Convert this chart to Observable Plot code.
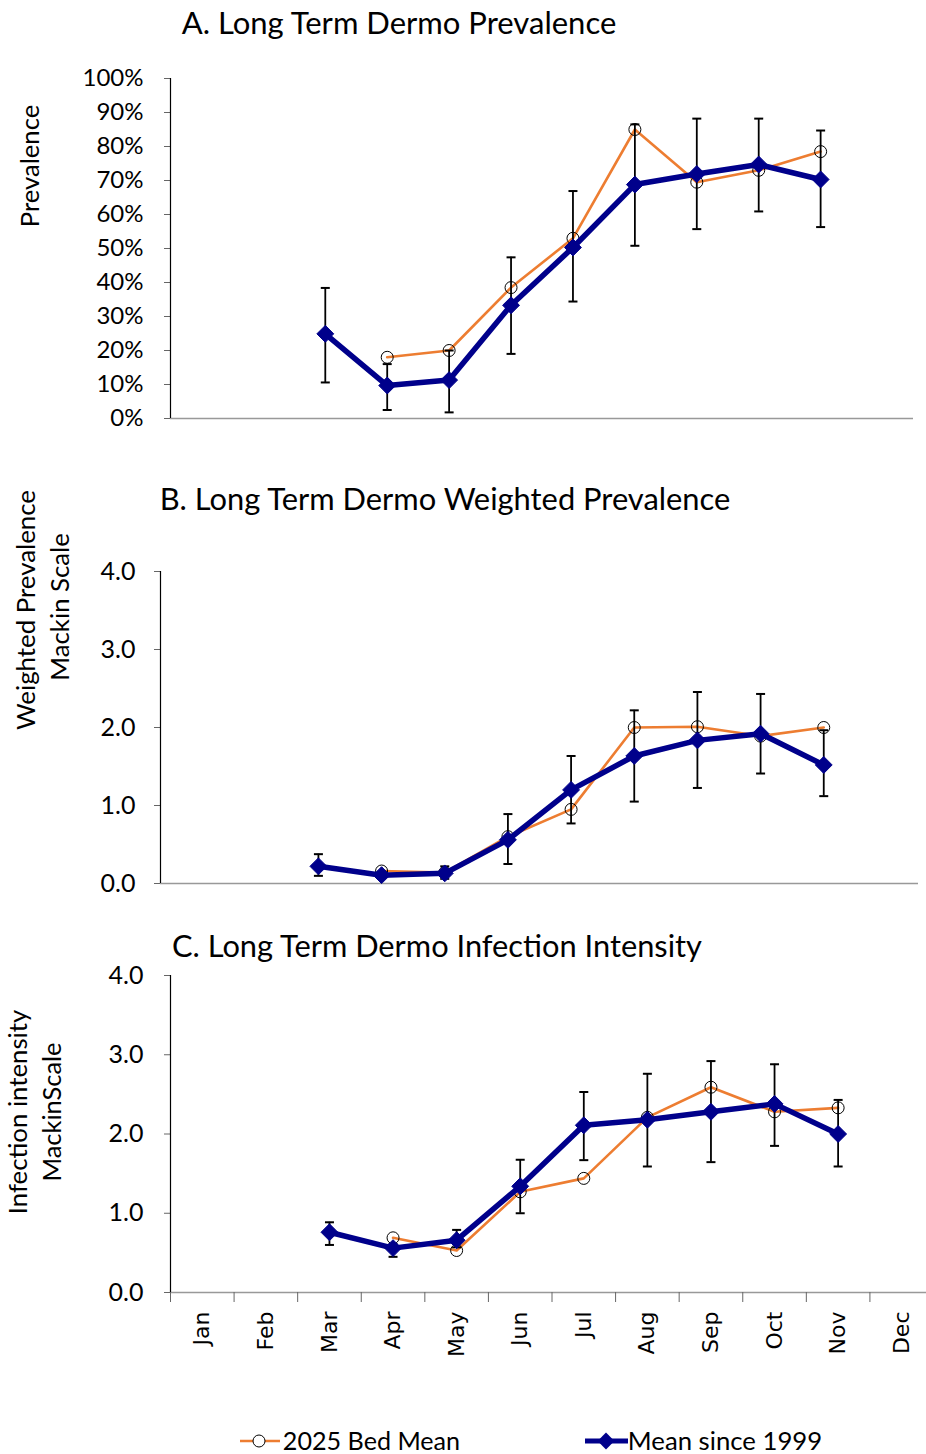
<!DOCTYPE html>
<html><head><meta charset="utf-8">
<script src="https://cdn.jsdelivr.net/npm/d3@7"></script>
<script src="https://cdn.jsdelivr.net/npm/@observablehq/plot@0.6"></script>
<style>
body{margin:0;background:#fff;}
#root{position:relative;width:926px;height:1454px;overflow:hidden;font-family:Lato,sans-serif;color:#000;background:#fff;}
.lbl{position:absolute;white-space:nowrap;line-height:1;}
.panel{position:absolute;left:0;}
</style></head><body><div id="root"></div>
<script>
// ---------- data ----------
const months = ["Jan","Feb","Mar","Apr","May","Jun","Jul","Aug","Sep","Oct","Nov","Dec"];
const seriesNames = ["2025 Bed Mean", "Mean since 1999"];

// A. Prevalence (fraction)
const prevMean = [null,null,0.249,0.097,0.113,0.333,0.503,0.688,0.719,0.747,0.703,null];
const prevBed  = [null,null,null,0.180,0.200,0.385,0.530,0.850,0.695,0.730,0.785,null];
const prevLo   = [null,null,0.106,0.025,0.018,0.190,0.344,0.508,0.557,0.609,0.563,null];
const prevHi   = [null,null,0.384,0.160,0.200,0.474,0.669,0.865,0.882,0.882,0.847,null];
const prevTicks = [0,0.1,0.2,0.3,0.4,0.5,0.6,0.7,0.8,0.9,1.0];

// B. Weighted prevalence (Mackin scale)
const wpMean = [null,null,0.22,0.107,0.13,0.56,1.20,1.635,1.835,1.92,1.52,null];
const wpBed  = [null,null,null,0.16,0.14,0.60,0.95,2.00,2.01,1.89,2.00,null];
const wpLo   = [null,null,0.098,0.07,0.06,0.25,0.77,1.05,1.225,1.41,1.12,null];
const wpHi   = [null,null,0.376,0.15,0.22,0.89,1.635,2.22,2.455,2.43,1.965,null];

// C. Infection intensity (Mackin scale)
const iiMean = [null,null,0.76,0.56,0.66,1.34,2.11,2.18,2.28,2.38,2.00,null];
const iiBed  = [null,null,null,0.69,0.53,1.27,1.44,2.21,2.59,2.28,2.33,null];
const iiLo   = [null,null,0.60,0.45,0.57,1.00,1.67,1.59,1.645,1.85,1.59,null];
const iiHi   = [null,null,0.886,0.61,0.79,1.675,2.53,2.76,2.92,2.88,2.43,null];
const mackinTicks = [0,1,2,3,4];

// ---------- styles ----------
const ORANGE = "#ED7D31", NAVY = "#00008B";
const capSymbol = {draw(ctx){ ctx.moveTo(-4.5,0); ctx.lineTo(4.5,0); }};
const root = document.getElementById("root");

function panel(o){
  const rows = months.map((m,i)=>({m, x:i+0.5, mean:o.mean[i], bed:o.bed[i], lo:o.lo[i], hi:o.hi[i]}));
  const mRows = rows.filter(d=>d.mean!=null);
  const bRows = rows.filter(d=>d.bed!=null);
  const eRows = rows.filter(d=>d.lo!=null);
  const marks = [
    Plot.ruleY([o.yDomain[0]], {stroke:"#999", strokeWidth:1.5}),
    Plot.axisY({ticks:o.yTicks, tickFormat:o.yFmt, tickSize:6, tickPadding:o.tickPad, stroke:"#666", fontSize:o.tickFont, label:null}),
    Plot.ruleX([0], {stroke:"#000", strokeWidth:1.2}),
    Plot.line(bRows, {x:"x", y:"bed", stroke:ORANGE, strokeWidth:2.6}),
    Plot.dot(bRows, {x:"x", y:"bed", r:6, stroke:"#000", strokeWidth:1, fill:"none"}),
    Plot.ruleX(eRows, {x:"x", y1:"lo", y2:"hi", stroke:"#000", strokeWidth:1.8}),
    Plot.dot(eRows, {x:"x", y:"lo", symbol:capSymbol, stroke:"#000", strokeWidth:2}),
    Plot.dot(eRows, {x:"x", y:"hi", symbol:capSymbol, stroke:"#000", strokeWidth:2}),
    Plot.line(mRows, {x:"x", y:"mean", stroke:NAVY, strokeWidth:5.5}),
    Plot.dot(mRows, {x:"x", y:"mean", symbol:"diamond2", r:7.6, fill:NAVY, stroke:NAVY, strokeWidth:1})
  ];
  if (o.monthAxis){
    marks.push(Plot.axisX({ticks:d3.range(13), tickSize:10, tickFormat:()=>"", stroke:"#666", label:null}));
    marks.push(Plot.text(rows, {x:"x", text:"m", frameAnchor:"bottom", dy:19, rotate:-90, textAnchor:"end", lineAnchor:"middle", fontSize:22, fontFamily:"DejaVu Sans", fill:"#000"}));
  }
  const svg = Plot.plot({
    width:926, height:o.height,
    marginLeft:o.range[0], marginRight:o.mR, marginTop:o.mT, marginBottom:o.mB,
    x:{type:"linear", domain:[0,12], range:o.range, axis:null},
    y:{type:"linear", domain:o.yDomain, axis:null},
    style:{fontFamily:"Lato, sans-serif", fontSize:o.tickFont+"px", color:"#000", background:"transparent", overflow:"visible"},
    marks
  });
  const wrap = document.createElement("div");
  wrap.className = "panel";
  wrap.style.top = o.top+"px";
  wrap.appendChild(svg);
  root.appendChild(wrap);
}

panel({top:60, height:370, mT:18, mB:12, mR:13, range:[170,913], yDomain:[0,1], yTicks:prevTicks,
  yFmt:d3.format(".0%"), tickPad:21, tickFont:24, mean:prevMean, bed:prevBed, lo:prevLo, hi:prevHi});
panel({top:550, height:350, mT:21, mB:17, mR:8, range:[160,918], yDomain:[0,4], yTicks:mackinTicks,
  yFmt:d3.format(".1f"), tickPad:19, tickFont:25, mean:wpMean, bed:wpBed, lo:wpLo, hi:wpHi});
panel({top:960, height:420, mT:15, mB:88, mR:0, range:[170,933], yDomain:[0,4], yTicks:mackinTicks,
  yFmt:d3.format(".1f"), tickPad:21, tickFont:25, mean:iiMean, bed:iiBed, lo:iiLo, hi:iiHi, monthAxis:true});

// ---------- text labels (fit to width) ----------
function label(text, cx, cy, target, rot, family){
  const d = document.createElement("div");
  d.className = "lbl";
  d.textContent = text;
  d.style.fontFamily = family || "Lato, sans-serif";
  d.style.fontSize = "24px";
  d.style.left = cx+"px"; d.style.top = cy+"px";
  root.appendChild(d);
  const w = d.offsetWidth;
  d.style.fontSize = (24*target/w).toFixed(2)+"px";
  d.style.transform = "translate(-50%,-50%)" + (rot ? " rotate(-90deg)" : "");
}
label("A. Long Term Dermo Prevalence", 399, 22, 434);
label("B. Long Term Dermo Weighted Prevalence", 445, 499, 571);
label("C. Long Term Dermo Infection Intensity", 437, 946, 530);
label("Prevalence", 30, 166, 123, true);
label("Weighted Prevalence", 26, 610, 240, true);
label("Mackin Scale", 60, 607, 147, true);
label("Infection intensity", 18, 1112, 205, true);
label("MackinScale", 52, 1112, 139, true);

// ---------- legend ----------
const lg = d3.create("svg").attr("width",926).attr("height",40)
  .style("position","absolute").style("left","0px").style("top","1421px");
lg.append("line").attr("x1",240).attr("x2",280).attr("y1",20).attr("y2",20).attr("stroke",ORANGE).attr("stroke-width",2.6);
lg.append("circle").attr("cx",259).attr("cy",20).attr("r",6).attr("fill","#fff").attr("stroke","#000");
lg.append("line").attr("x1",585).attr("x2",628).attr("y1",20).attr("y2",20).attr("stroke",NAVY).attr("stroke-width",5);
lg.append("path").attr("transform","translate(606,20)").attr("d",d3.symbol(d3.symbolDiamond2, 7.6*7.6*Math.PI)()).attr("fill",NAVY);
root.appendChild(lg.node());
label(seriesNames[0], 283+177/2, 1441, 177);
label(seriesNames[1], 628+194/2, 1441, 194);
</script></body></html>
